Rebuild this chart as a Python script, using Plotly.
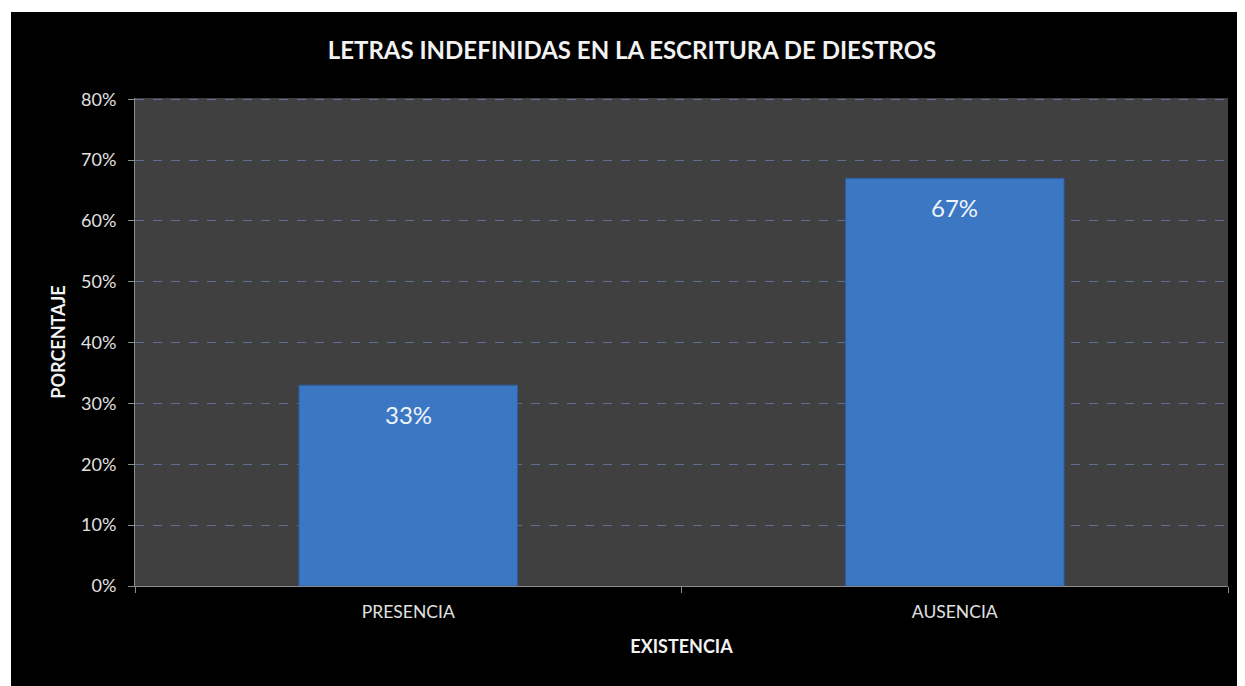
import plotly.graph_objects as go

categorias = ['PRESENCIA', 'AUSENCIA']
porcentajes = [33, 67]
etiquetas = ['33%', '67%']
tick_vals = [0, 10, 20, 30, 40, 50, 60, 70, 80]
tick_text = ['0%', '10%', '20%', '30%', '40%', '50%', '60%', '70%', '80%']

# page body has an 8px margin, so the figure is a little smaller than the window
W, H = 1237, 678
L, R, T, B = 127, 17, 90, 100
pw, ph = W - L - R, H - T - B

fig = go.Figure(
    data=[go.Bar(
        x=categorias,
        y=porcentajes,
        marker=dict(color='#3c77c4', line=dict(color='#2c5c9e', width=1)),
        hoverinfo='skip',
    )]
)

# value labels inside the top of each bar
for cat, val, lab in zip(categorias, porcentajes, etiquetas):
    fig.add_annotation(x=cat, y=val, text=lab, showarrow=False, yshift=-29,
                       font=dict(family='Lato', size=24, color='#eef3fa'))

# white strips along the top and left edges of the picture
fig.add_shape(type='rect', xref='paper', yref='paper', layer='above',
              x0=-L / pw - 0.01, x1=(W - L) / pw + 0.01,
              y0=(H - 4 - B) / ph, y1=(H - B) / ph + 0.01,
              fillcolor='white', line_width=0)
fig.add_shape(type='rect', xref='paper', yref='paper', layer='above',
              x0=-L / pw - 0.01, x1=(3 - L) / pw,
              y0=-B / ph - 0.01, y1=(H - B) / ph + 0.01,
              fillcolor='white', line_width=0)

fig.update_layout(
    width=W, height=H,
    margin=dict(l=L, r=R, t=T, b=B),
    paper_bgcolor='black',
    plot_bgcolor='#404040',
    bargap=0.6,
    showlegend=False,
    font=dict(family='Lato', color='#e0e0e0'),
    title=dict(text='<b>LETRAS INDEFINIDAS EN LA ESCRITURA DE DIESTROS</b>',
               x=624 / W, xanchor='center', y=1 - 43 / H, yanchor='middle',
               font=dict(family='Lato', size=24, color='#f2f2f2')),
)

fig.update_yaxes(
    range=[0, 80.2], tickvals=tick_vals, ticktext=tick_text,
    tickfont=dict(size=18, color='#e0e0e0'),
    ticklabelstandoff=8,
    showgrid=True, gridcolor='#5f6f92', griddash='dash', gridwidth=1,
    showline=True, linecolor='#8c8c8c', linewidth=1,
    ticks='outside', ticklen=6, tickcolor='#8c8c8c',
    zeroline=False,
    title=dict(text='<b>PORCENTAJE</b>', standoff=10,
               font=dict(size=18, color='#f2f2f2')),
)

fig.update_xaxes(
    tickfont=dict(size=17.5, color='#e0e0e0'),
    ticklabelstandoff=10,
    showline=True, linecolor='#8c8c8c', linewidth=1,
    ticks='outside', tickson='boundaries', ticklen=6, tickcolor='#8c8c8c',
    showgrid=False,
    title=dict(text='<b>EXISTENCIA</b>', standoff=19,
               font=dict(size=18, color='#f2f2f2')),
)

fig.write_html('out.html')
